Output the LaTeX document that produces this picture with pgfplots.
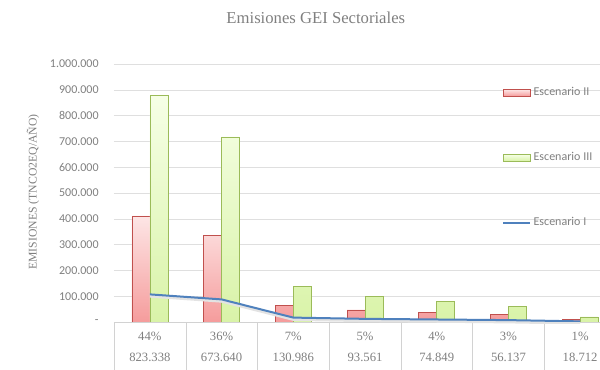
\documentclass[border=0pt]{standalone}
\usepackage{pgfplots}
\pgfplotsset{compat=1.18}
\usepackage{fontspec}
\setmainfont{Liberation Serif}
\newfontfamily\carlito{Carlito}
\definecolor{redb}{HTML}{C0504D}
\definecolor{redtop}{HTML}{FDE6E6}
\definecolor{redbot}{HTML}{F59C9C}
\definecolor{grnb}{HTML}{9BBB59}
\definecolor{grntop}{HTML}{F6FFE6}
\definecolor{grnbot}{HTML}{D9F3A8}
\definecolor{blueline}{HTML}{4F81BD}
\definecolor{txt}{HTML}{7F7F7F}
\begin{document}
\begin{tikzpicture}
\clip (-85.5pt,-36pt) rectangle (364.5pt,241.5pt);
\begin{axis}[
  scale only axis, clip mode=individual,
  width=376.5pt, height=193.5pt,
  xmin=-0.5, xmax=6.5, ymin=0, ymax=1000000,
  axis x line*=bottom, axis y line*=left,
  y axis line style={draw=none},
  x axis line style={draw=gray!35},
  scaled y ticks=false,
  xtick={0,1,2,3,4,5,6},
  xticklabels={{44\%\\823.338},{36\%\\673.640},{7\%\\130.986},{5\%\\93.561},{4\%\\74.849},{3\%\\56.137},{1\%\\18.712}},
  xticklabel style={align=center, anchor=center, yshift=-18.4pt, text=txt,
    font=\fontsize{9.5}{15.75}\selectfont},
  minor xtick={-0.5,0.5,1.5,2.5,3.5,4.5,5.5,6.5},
  minor tick length=36pt,
  major tick length=0pt,
  tick align=outside,
  minor tick style={draw=gray!35},
  ytick={0,100000,200000,300000,400000,500000,600000,700000,800000,900000,1000000},
  yticklabels={-,100.000,200.000,300.000,400.000,500.000,600.000,700.000,800.000,900.000,1.000.000},
  yticklabel style={text=txt, font=\carlito\fontsize{9}{10}\selectfont, xshift=-8pt},
  ymajorgrids, grid style={gray!25},
  title={Emisiones GEI Sectoriales},
  every axis title/.style={at={(rel axis cs:0.402,1)}, anchor=center, yshift=34.5pt,
    text=txt, font=\fontsize{12.5}{14}\selectfont},
  ybar=0pt, bar width=13.5pt,
  legend style={at={(rel axis cs:0.765,0.93)}, anchor=north west, draw=none, fill=none,
    font=\carlito\fontsize{9}{10}\selectfont, text=txt,
    row sep=37pt, cells={anchor=west}},
  legend cell align=left,
]
\addplot[draw=redb, top color=redtop, bottom color=redbot,
  legend image code/.code={\draw[draw=redb, fill=redtop!60!redbot] (0pt,-2.5pt) rectangle (20pt,2.5pt);}]
  coordinates {(0,411669) (1,336820) (2,65493) (3,46781) (4,37425) (5,28069) (6,9356)};
\addlegendentry{Escenario II}
\addplot[draw=grnb, top color=grntop, bottom color=grnbot,
  legend image code/.code={\draw[draw=grnb, fill=grntop!50!grnbot] (0pt,-2.5pt) rectangle (20pt,2.5pt);}]
  coordinates {(0,876855) (1,717427) (2,139500) (3,99642) (4,79714) (5,59786) (6,19928)};
\addlegendentry{Escenario III}
\addplot[sharp plot, draw=gray!22, line width=2.5pt, yshift=-1.2pt, forget plot]
  coordinates {(0,107034) (1,87573) (2,17028) (3,12163) (4,9730) (5,7298) (6,2433)};
\addplot[sharp plot, draw=blueline, line width=1.5pt,
  legend image code/.code={\draw[draw=blueline, line width=1.5pt] (0pt,0pt) -- (20pt,0pt);}]
  coordinates {(0,107034) (1,87573) (2,17028) (3,12163) (4,9730) (5,7298) (6,2433)};
\addlegendentry{Escenario I}
\node[rotate=90, anchor=center, text=txt, font=\fontsize{8.8}{10}\selectfont]
  at (axis description cs:-0.1614,0.504) {EMISIONES (TNCO2EQ/AÑO)};
\end{axis}
\end{tikzpicture}
\end{document}
